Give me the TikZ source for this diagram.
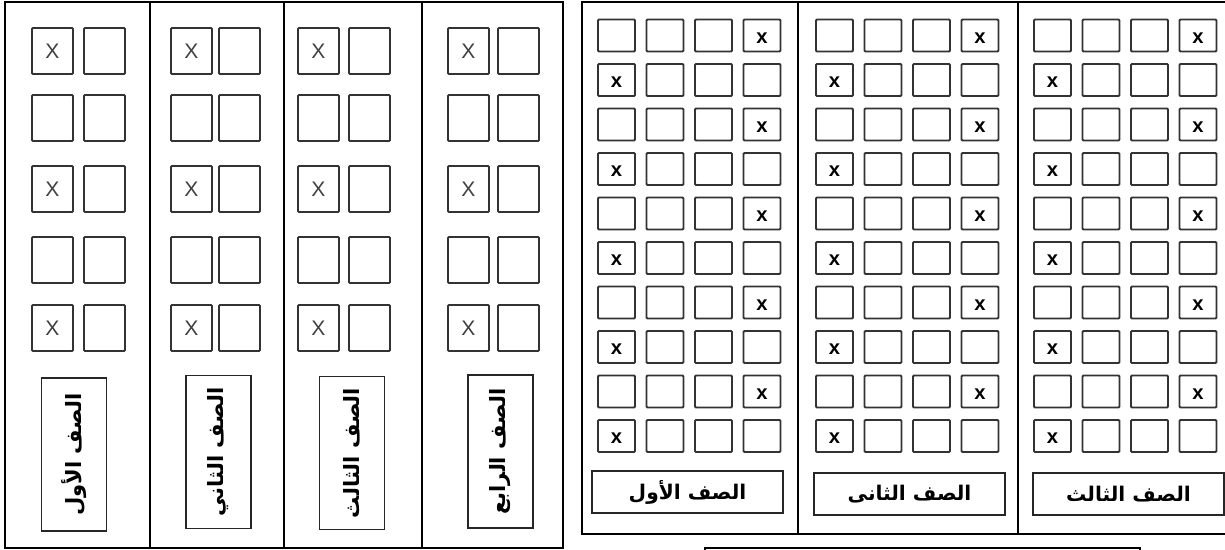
\documentclass[tikz,border=0pt]{standalone}
\usepackage{fontspec}
\setmainfont{Liberation Sans}
\newfontfamily\arabicfont[Script=Arabic]{DejaVu Sans}
\TeXXeTstate=1
\begin{document}
\begin{tikzpicture}[x=0.02cm,y=-0.02cm,
    panel/.style={line width=0.8pt},
    deskL/.style={draw=black!80,line width=1.1pt,rounded corners=0.6pt,minimum width=0.82cm,minimum height=0.92cm,inner sep=0pt},
    deskR/.style={draw=black!80,line width=1.1pt,rounded corners=0.6pt,minimum width=0.74cm,minimum height=0.64cm,inner sep=0pt},
    xthin/.style={font=\fontsize{12}{12}\selectfont,text=black!75,inner sep=0pt},
    xbold/.style={font=\fontsize{11.5}{11.5}\selectfont\bfseries,inner sep=0pt,yshift=-1.5pt},
    labelL/.style={draw=black!85,line width=1pt,minimum width=3.06cm,minimum height=1.3cm,inner sep=0pt,rotate=90,font=\arabicfont\bfseries\fontsize{12}{12}\selectfont},
    labelR/.style={draw=black!85,line width=1pt,minimum width=3.82cm,minimum height=0.84cm,inner sep=0pt,font=\arabicfont\bfseries\fontsize{11.5}{12}\selectfont}]
    \useasboundingbox (0,0) rectangle (1225,550);
    \clip (0,0) rectangle (1225,550);
    % left plan: four rows of double desks
    \draw[panel] (5,2) rectangle (563,548);
    \foreach \xx in {150,284,422}
        \draw[panel] (\xx,2) -- (\xx,548);
    \foreach \c/\xa/\xb in {1/52.5/104.5,2/191.5/239.5,3/318.5/369.5,4/468.5/518.5}
    {
        \foreach \r/\yy in {1/51,2/118,3/189,4/260,5/328}
        {
            \node[deskL] (L\c-\r-a) at (\xa,\yy) {};
            \node[deskL] (L\c-\r-b) at (\xb,\yy) {};
        }
        \foreach \r in {1,3,5}
            \node[xthin] (L\c-\r-x) at (L\c-\r-a) {X};
    }
    \node[labelL] (nameL1) at (74,454.5) {\beginR الصف الأول\endR};
    \node[labelL] (nameL2) at (218.5,452) {\beginR الصف الثاني\endR};
    \node[labelL] (nameL3) at (352,453) {\beginR الصف الثالث\endR};
    \node[labelL] (nameL4) at (500.5,451.5) {\beginR الصف الرابع\endR};
    % right plan: three rows of single desks
    \draw[panel] (582,2) rectangle (1240,534);
    \foreach \xx in {798,1018}
        \draw[panel] (\xx,2) -- (\xx,534);
    \foreach \g/\xx in {1/616.5,2/834.5,3/1052.5}
    {
        \foreach \r in {1,...,10}
            \foreach \k in {0,...,3}
                \node[deskR] (R\g-\r-\k) at ({\xx+48.5*\k},{35.5+44.5*(\r-1)}) {};
        \foreach \r in {1,3,...,9}
            \node[xbold] (R\g-\r-x) at (R\g-\r-3) {x};
        \foreach \r in {2,4,...,10}
            \node[xbold] (R\g-\r-x) at (R\g-\r-0) {x};
    }
    \node[labelR] (nameR1) at (687.5,492) {\beginR الصف الأول\endR};
    \node[labelR] (nameR2) at (909.5,494) {\beginR الصف الثانى\endR};
    \node[labelR] (nameR3) at (1128.5,494) {\beginR الصف الثالث\endR};
    \draw[panel] (705,560) rectangle (1140,548);
\end{tikzpicture}
\end{document}
